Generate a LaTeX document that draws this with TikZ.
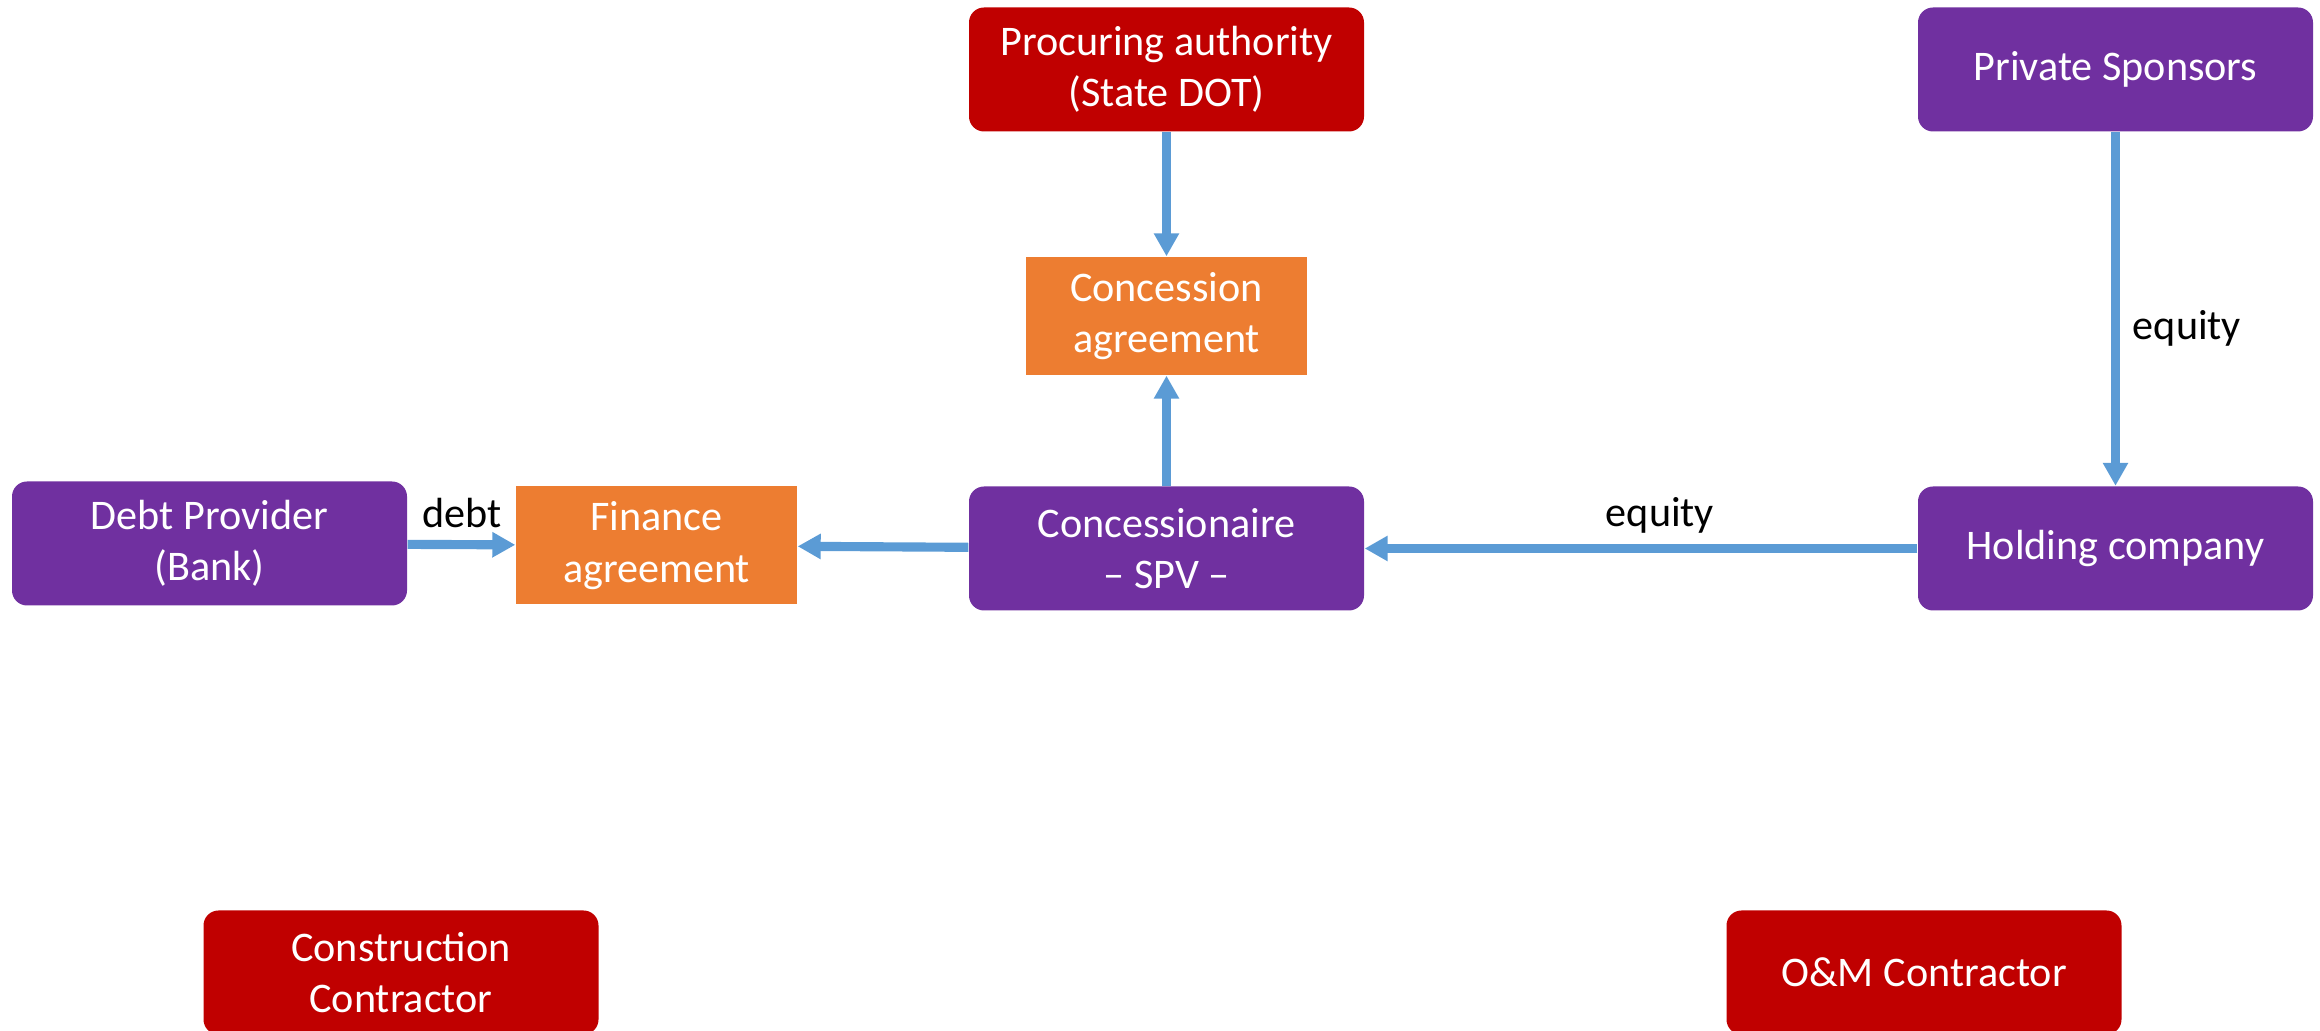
\documentclass[tikz,border=0pt]{standalone}
\usepackage{fontspec}
\setmainfont{Carlito}
\usepackage{tikz}
\usetikzlibrary{arrows.meta}
\usetikzlibrary{positioning}
\definecolor{ppred}{HTML}{C00000}
\definecolor{pppurple}{HTML}{7030A0}
\definecolor{pporange}{HTML}{ED7D31}
\definecolor{ppblue}{HTML}{5B9BD5}
\tikzset{party/.style = {rounded corners=0.15cm, text=white, align=center,
                         minimum width=3.95cm, minimum height=1.24cm, inner sep=0,
                         font=\fontsize{12}{14.6}\selectfont}}
\tikzset{public/.style = {party, fill=ppred}}
\tikzset{private/.style = {party, fill=pppurple}}
\tikzset{contract/.style = {fill=pporange, text=white, align=center,
                            minimum width=2.81cm, minimum height=1.18cm, inner sep=0,
                            font=\fontsize{12}{14.6}\selectfont}}
\tikzset{flow/.style = {draw=ppblue, line width=2.6pt,
                        -{Triangle[width=0.24cm, length=0.23cm]}}}
\tikzset{flowlabel/.style = {text=black, font=\fontsize{12}{14.6}\selectfont}}

\begin{document}
\begin{tikzpicture}
    \useasboundingbox (0, 0) rectangle (23.2, 10.31);

    \node [public] (proc) at (11.665, 9.615) {Procuring authority\\(State DOT)};
    \node [private] (spons) at (21.155, 9.615) {Private Sponsors};
    \node [contract] (ca) at (11.665, 7.15) {Concession\\agreement};
    \node [private] (bank) at (2.095, 4.875) {Debt Provider\\(Bank)};
    \node [contract] (fa) at (6.565, 4.855) {Finance\\agreement};
    \node [private] (spv) at (11.665, 4.825) {Concessionaire\\-- SPV --};
    \node [private] (hold) at (21.155, 4.825) {Holding company};
    \node [public] (cons) at (4.01, 0.585) {Construction\\Contractor};
    \node [public] (om) at (19.24, 0.585) {O\&M Contractor};

    \draw [flow] (proc) -- (ca);
    \draw [flow] (spv) -- (ca);
    \draw [flow] (spv) -- (fa);
    \draw [flow] (bank) -- (fa);
    \draw [flow] (hold) -- (spv);
    \draw [flow] (spons) -- (hold);

    \node [flowlabel] (debt) at (4.62, 5.18) {debt};
    \node [flowlabel] (eqh) at (16.6, 5.16) {equity};
    \node [flowlabel] (eqv) at (21.87, 7.03) {equity};
\end{tikzpicture}
\end{document}
